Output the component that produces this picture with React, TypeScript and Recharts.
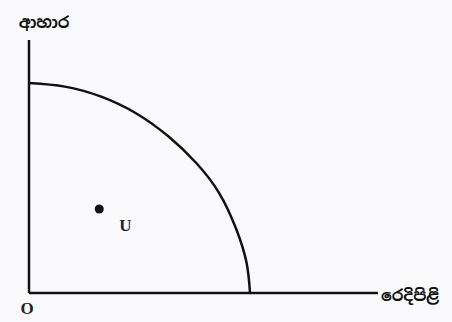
import { ComposedChart, Line, Scatter, XAxis, YAxis, Label } from 'recharts'

// production possibility curve (clothing on x, food on y)
const curveX = [0, 1.63, 3.29, 4.89, 6.36, 7.63, 8.67, 9.44, 9.91, 10.07]
const curveY = [10, 9.83, 9.35, 8.55, 7.45, 6.18, 4.75, 3.05, 1.45, 0]

const pointU = [{ x: 3.2, y: 4.0, name: 'U' }]

const yLabel = 'ආහාර'
const xLabel = 'රෙදිපිළි'

const curve = curveX.map((x, i) => ({ x, y: curveY[i] }))

const sinhalaFont = '"Noto Sans Sinhala", "Noto Sans", sans-serif'

const UDot = (props: any) => {
  const { cx, cy, payload } = props
  return (
    <g>
      <circle cx={cx} cy={cy} r={4.5} fill="#111" />
      <text x={cx + 20} y={cy + 22} fontFamily="'Liberation Serif', serif" fontWeight="bold" fontSize={17} fill="#222">
        {payload.name}
      </text>
    </g>
  )
}

export default function App() {
  return (
    <div style={{ position: 'absolute', left: 0, top: 0, width: 452, height: 322, background: '#fafafc' }}>
      <ComposedChart
        width={452}
        height={322}
        margin={{ top: 40, right: 74, bottom: 28, left: 28 }}
      >
        <XAxis
          type="number"
          dataKey="x"
          domain={[0, 15.9]}
          allowDataOverflow
          tick={false}
          tickLine={false}
          height={1}
          axisLine={{ stroke: '#111', strokeWidth: 2.5 }}
        >
          <Label
            content={(p: any) => {
              const vb = p.viewBox
              return (
                <g>
                  <text x={vb.x + vb.width + 3} y={vb.y + 8} fontFamily={sinhalaFont} fontWeight="bold" fontSize={16} fill="#111">
                    {xLabel}
                  </text>
                  <text x={vb.x - 2} y={vb.y + 21} textAnchor="middle" fontFamily="'Liberation Serif', serif" fontWeight="bold" fontSize={17} fill="#222">
                    O
                  </text>
                </g>
              )
            }}
          />
        </XAxis>
        <YAxis
          type="number"
          dataKey="y"
          domain={[0, 12.05]}
          allowDataOverflow
          tick={false}
          tickLine={false}
          width={1}
          axisLine={{ stroke: '#111', strokeWidth: 2.5 }}
        >
          <Label
            content={(p: any) => {
              const vb = p.viewBox
              return (
                <text x={vb.x + 16} y={vb.y - 12} textAnchor="middle" fontFamily={sinhalaFont} fontWeight="bold" fontSize={16} fill="#111">
                  {yLabel}
                </text>
              )
            }}
          />
        </YAxis>
        <Line
          data={curve}
          dataKey="y"
          type="natural"
          stroke="#111"
          strokeWidth={2.5}
          dot={false}
          isAnimationActive={false}
        />
        <Scatter
          data={pointU}
          dataKey="y"
          fill="#111"
          shape={<UDot />}
          isAnimationActive={false}
        />
      </ComposedChart>
    </div>
  )
}
